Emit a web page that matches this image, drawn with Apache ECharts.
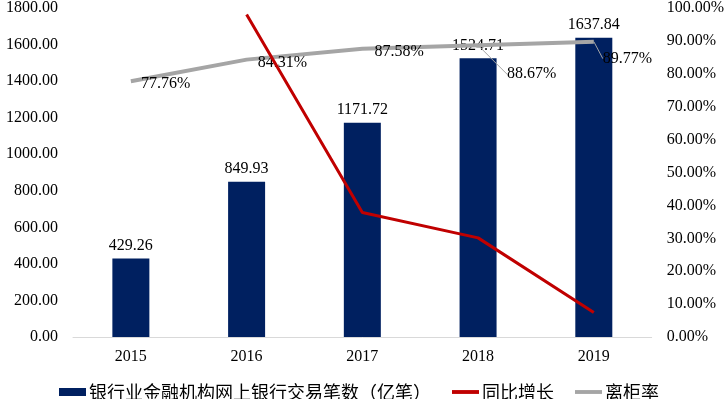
<!DOCTYPE html>
<html>
<head>
<meta charset="utf-8">
<script src="https://cdn.jsdelivr.net/npm/echarts@6/dist/echarts.min.js"></script>
<style>html,body{margin:0;padding:0;background:#fff}#c{width:727px;height:399px}</style>
</head>
<body>
<div id="c"></div>
<script>
var categories = ['2015', '2016', '2017', '2018', '2019'];
var txnCount = [429.26, 849.93, 1171.72, 1524.71, 1637.84];
var yoyGrowth = [null, 98.00, 37.86, 30.13, 7.42];
var offCounterRate = [77.76, 84.31, 87.58, 88.67, 89.77];
var leftTicks = { min: 0, max: 1800, interval: 200 };
var rightTicks = { min: 0, max: 100, interval: 10 };
var names = ['银行业金融机构网上银行交易笔数（亿笔）', '同比增长', '离柜率'];

var serif = "'Liberation Serif', 'Times New Roman', serif";
var lineIcon = 'path://M0,0H28V4H0Z';
var chart = echarts.init(document.getElementById('c'), null, { renderer: 'canvas' });
chart.setOption({
  animation: false,
  backgroundColor: '#fff',
  grid: { left: 73, right: 74, top: 8, bottom: 62, containLabel: false },
  legend: {
    top: 378,
    left: 54,
    itemWidth: 27,
    itemHeight: 8,
    itemGap: 21,
    textStyle: { fontSize: 18, color: '#000', fontFamily: "'Noto Sans CJK SC', sans-serif", padding: [0, 0, 0, -2] },
    data: [
      { name: names[0], icon: 'rect' },
      { name: names[1], icon: lineIcon },
      { name: names[2], icon: lineIcon }
    ]
  },
  xAxis: {
    type: 'category',
    data: categories,
    axisLine: { lineStyle: { color: '#D9D9D9', width: 1 } },
    axisTick: { show: false },
    axisLabel: { color: '#000', fontSize: 16, fontFamily: serif, margin: 12 }
  },
  yAxis: [
    {
      type: 'value', min: leftTicks.min, max: leftTicks.max, interval: leftTicks.interval,
      splitLine: { show: false }, axisLine: { show: false }, axisTick: { show: false },
      axisLabel: { color: '#000', fontSize: 16, fontFamily: serif, margin: 15,
        formatter: function (v) { return v.toFixed(2); } }
    },
    {
      type: 'value', min: rightTicks.min, max: rightTicks.max, interval: rightTicks.interval,
      splitLine: { show: false }, axisLine: { show: false }, axisTick: { show: false },
      axisLabel: { color: '#000', fontSize: 16, fontFamily: serif, margin: 15,
        formatter: function (v) { return v.toFixed(2) + '%'; } }
    }
  ],
  series: [
    {
      name: names[0], type: 'bar', data: txnCount, barWidth: 37,
      itemStyle: { color: '#002060' },
      label: { show: true, position: 'top', distance: 5, color: '#000', fontSize: 16, fontFamily: serif,
        formatter: function (p) { return p.value.toFixed(2); } }
    },
    {
      name: names[2], type: 'line', yAxisIndex: 1, data: offCounterRate.map(function (v, i) {
        var item = { value: v };
        if (i >= 3) item.labelLine = { show: true, lineStyle: { color: '#A5A5A5', width: 1 } };
        return item;
      }),
      symbol: 'circle', symbolSize: 0.1, showSymbol: true,
      lineStyle: { color: '#A5A5A5', width: 4 }, itemStyle: { color: '#A5A5A5' },
      label: { show: true, position: 'right', distance: 10, color: '#000', fontSize: 16, fontFamily: serif,
        formatter: function (p) { return p.value.toFixed(2) + '%'; } },
      labelLine: { show: false, length2: 0 },
      labelLayout: function (p) {
        if (p.dataIndex === 0) return { dx: 0, dy: 3 };
        if (p.dataIndex === 1) return { dx: 1, dy: 3 };
        if (p.dataIndex === 2) return { dx: 2, dy: 3 };
        if (p.dataIndex === 3) return { dx: 19, dy: 29 };
        if (p.dataIndex === 4) return { dx: -1, dy: 17 };
        return {};
      },
      z: 3
    },
    {
      name: names[1], type: 'line', yAxisIndex: 1, data: yoyGrowth,
      symbol: 'none', lineStyle: { color: '#C00000', width: 3 }, itemStyle: { color: '#C00000' },
      z: 4
    }
  ]
});
</script>
</body>
</html>
